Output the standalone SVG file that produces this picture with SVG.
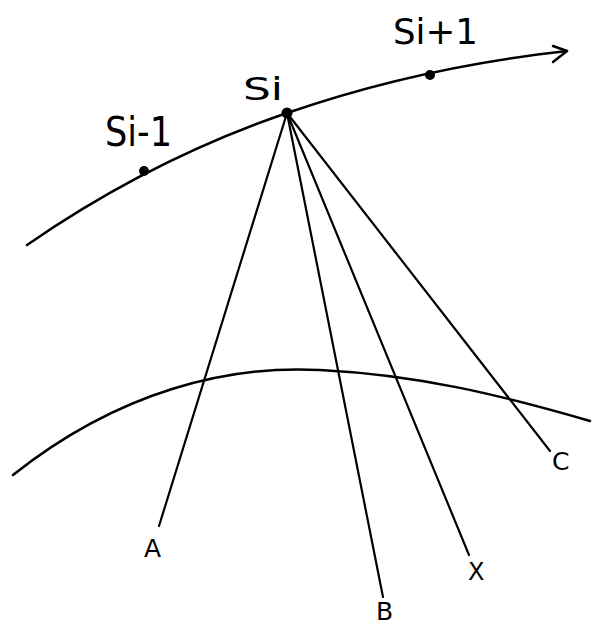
<svg xmlns="http://www.w3.org/2000/svg" width="593" height="627" viewBox="0 0 593 627">
<style>
.ln{fill:none;stroke:#000;stroke-width:2.5;stroke-linecap:round;stroke-linejoin:round}
.ray{fill:none;stroke:#000;stroke-width:2.2;stroke-linecap:round}
.dot{fill:#000}
.lbl{font-family:"DejaVu Sans","Liberation Sans",sans-serif;fill:#000;font-weight:normal}
</style>
<rect width="593" height="627" fill="#fff"/>
<g id="connectors">
<path id="upper-curve" class="ln" d="M27,245 Q150,160 287,113 Q420,67 567,51"/>
<polyline id="arrowhead" class="ln" points="553,46 567,51 553,62"/>
<path id="lower-curve" class="ln" d="M13,475 C120,390 230,365 320,370 C420,375 500,395 590,421"/>
<line class="ray" x1="287" y1="113" x2="159" y2="526"/>
<line class="ray" x1="287" y1="113" x2="383" y2="597"/>
<line class="ray" x1="287" y1="113" x2="469" y2="555"/>
<line class="ray" x1="287" y1="113" x2="550" y2="451"/>
</g>
<g id="node-si-1">
<circle class="dot" cx="144" cy="171" r="5"/>
<text class="lbl" x="105" y="146" font-size="40" textLength="67" lengthAdjust="spacingAndGlyphs">Si-1</text>
</g>
<g id="node-si">
<circle class="dot" cx="287" cy="113" r="5.5"/>
<text class="lbl" x="243" y="100" font-size="32" textLength="40" lengthAdjust="spacingAndGlyphs">Si</text>
</g>
<g id="node-si+1">
<circle class="dot" cx="430" cy="75" r="5"/>
<text class="lbl" x="393" y="44" font-size="36" textLength="85" lengthAdjust="spacingAndGlyphs">Si+1</text>
</g>
<g id="node-a">
<text class="lbl" x="144" y="557" font-size="25">A</text>
</g>
<g id="node-b">
<text class="lbl" x="376" y="620" font-size="25">B</text>
</g>
<g id="node-x">
<text class="lbl" x="468" y="580" font-size="24">X</text>
</g>
<g id="node-c">
<text class="lbl" x="552" y="470" font-size="25">C</text>
</g>
</svg>
